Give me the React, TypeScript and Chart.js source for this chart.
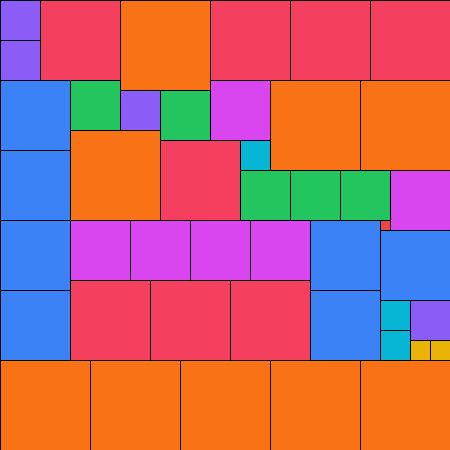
import React, { useEffect, useRef } from "react";
import { Chart, registerables } from "chart.js";

Chart.register(...registerables);

// Square packing data: left, top (value space 0..450) and side length
const squareLeft = [
  0, 0, 120, 410,
  40, 210, 290, 370, 160, 70, 150, 230,
  120, 270, 360, 70, 0, 90, 180, 270, 360,
  0, 0, 0, 0, 310, 310, 380,
  70, 160, 240, 290, 340,
  210, 390, 70, 130, 190, 250,
  240, 380, 380,
  410, 430,
  380,
];
const squareTop = [
  0, 40, 90, 300,
  0, 0, 0, 0, 140, 280, 280, 280,
  0, 80, 80, 130, 360, 360, 360, 360, 360,
  80, 150, 220, 290, 220, 290, 230,
  80, 90, 170, 170, 170,
  80, 170, 220, 220, 220, 220,
  140, 300, 330,
  340, 340,
  220,
];
const squareSize = [
  40, 40, 40, 40,
  80, 80, 80, 80, 80, 80, 80, 80,
  90, 90, 90, 90, 90, 90, 90, 90, 90,
  70, 70, 70, 70, 70, 70, 70,
  50, 50, 50, 50, 50,
  60, 60, 60, 60, 60, 60,
  30, 30, 30,
  20, 20,
  10,
];

const sizeGroups = [10, 20, 30, 40, 50, 60, 70, 80, 90];
const groupColors = [
  "#ef4444", "#eab308", "#06b6d4", "#8b5cf6", "#22c55e",
  "#d946ef", "#3b82f6", "#f43f5e", "#f97316",
];

const squarePlugin = {
  id: "squares",
  afterDatasetsDraw(chart: any) {
    const { ctx } = chart;
    const xs = chart.scales.x;
    const ys = chart.scales.y;
    ctx.save();
    chart.data.datasets.forEach((ds: any) => {
      ds.data.forEach((p: any) => {
        const x0 = Math.round(xs.getPixelForValue(p.x));
        const x1 = Math.round(xs.getPixelForValue(p.x + p.s));
        const y0 = Math.round(ys.getPixelForValue(p.y));
        const y1 = Math.round(ys.getPixelForValue(p.y + p.s));
        ctx.fillStyle = ds.backgroundColor;
        ctx.fillRect(x0, y0, x1 - x0, y1 - y0);
        ctx.strokeStyle = "#000000";
        ctx.lineWidth = 1;
        ctx.strokeRect(x0 + 0.5, y0 + 0.5, x1 - x0, y1 - y0);
      });
    });
    ctx.restore();
  },
};

export default function App() {
  const ref = useRef<HTMLCanvasElement>(null);
  useEffect(() => {
    document.body.style.margin = "0";
    if (!ref.current) return;
    const datasets = sizeGroups.map((sz, gi) => ({
      label: String(sz),
      backgroundColor: groupColors[gi],
      pointRadius: 0,
      data: squareSize
        .map((s, i) => ({ x: squareLeft[i], y: squareTop[i], s }))
        .filter((p) => p.s === sz),
    }));
    const chart = new Chart(ref.current, {
      type: "scatter",
      data: { datasets },
      options: {
        animation: false,
        responsive: false,
        maintainAspectRatio: false,
        layout: { padding: 0 },
        plugins: { legend: { display: false }, tooltip: { enabled: false } },
        scales: {
          x: { type: "linear", min: 0, max: 450, display: false },
          y: { type: "linear", min: 0, max: 450, reverse: true, display: false },
        },
      },
      plugins: [squarePlugin],
    });
    return () => chart.destroy();
  }, []);
  return (
    <div style={{ width: 450, height: 450 }}>
      <canvas ref={ref} width={450} height={450} style={{ display: "block" }} />
    </div>
  );
}
